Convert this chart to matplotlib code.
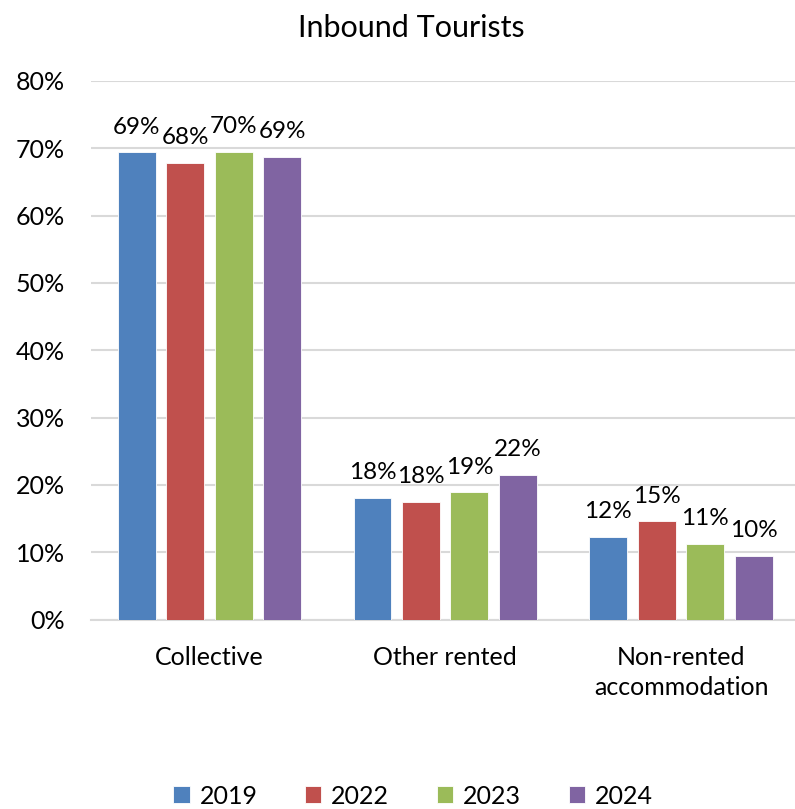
import matplotlib.pyplot as plt
import numpy as np

plt.rcParams['font.family'] = ['Lato', 'DejaVu Sans']

categories = ["Collective", "Other rented", "Non-rented\naccommodation"]
years = ["2019", "2022", "2023", "2024"]
shares = {
    "2019": [69.4, 18.1, 12.3],
    "2022": [67.8, 17.5, 14.6],
    "2023": [69.5, 18.9, 11.3],
    "2024": [68.7, 21.5, 9.5],
}
colors = ["#4F81BD", "#C0504D", "#9BBB59", "#8064A2"]

fig = plt.figure(figsize=(7.95, 8.09), dpi=100)
ax = fig.add_axes([0.115, 0.234, 0.89, 0.666])

x = np.arange(len(categories))
step = 0.2055
width = 0.161
for i, (yr, col) in enumerate(zip(years, colors)):
    vals = np.array(shares[yr]) / 100
    pos = x + (i - 1.5) * step
    bars = ax.bar(pos, vals, width, color=col, label=yr, zorder=3,
                  edgecolor="white", linewidth=0.6)
    for b, v in zip(bars, vals):
        ax.annotate(f"{v * 100:.0f}%", (b.get_x() + b.get_width() / 2, v),
                    xytext=(0, 13.5), textcoords="offset points",
                    ha="center", va="baseline", fontsize=17.5)

ax.set_xlim(-0.5, 2.5)
ax.set_ylim(0, 0.8)
ax.set_yticks(np.arange(0, 0.81, 0.1))
ax.set_yticklabels([f"{t * 100:.0f}%" for t in np.arange(0, 0.81, 0.1)], fontsize=18)
ax.set_xticks(x)
ax.set_xticklabels(categories, fontsize=18, linespacing=1.35)
ax.tick_params(axis="x", length=0, pad=19)
ax.tick_params(axis="y", length=0, pad=19)

ax.grid(axis="y", color="#d9d9d9", linewidth=1.5, zorder=0)
for s in ["top", "right", "left"]:
    ax.spines[s].set_visible(False)
ax.spines["bottom"].set_color("#d9d9d9")
ax.spines["bottom"].set_linewidth(1.5)

fig.text(411 / 795, 1 - 28 / 809, "Inbound Tourists", ha="center", va="center", fontsize=22)

fig.legend(loc="center", bbox_to_anchor=(413 / 795, 13 / 809), ncol=4, frameon=False,
           fontsize=18, handlelength=0.65, handleheight=0.65, handletextpad=0.4,
           columnspacing=1.9)

fig.savefig("out.png", dpi=100)
